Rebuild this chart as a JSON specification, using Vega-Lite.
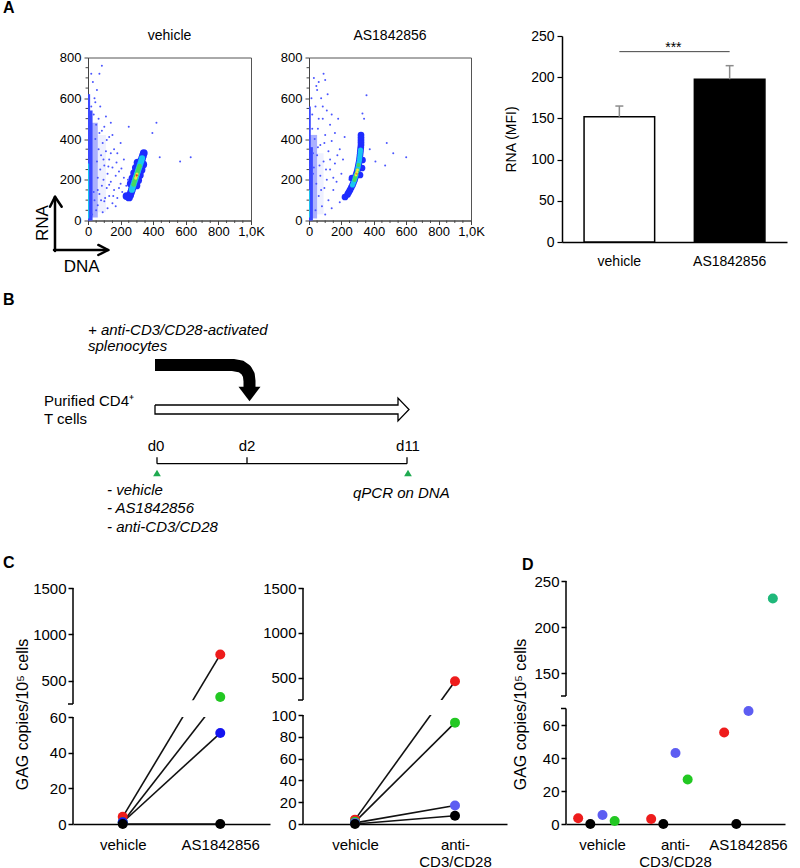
{
"$schema": "https://vega.github.io/schema/vega-lite/v6.json",
"padding": {"left": 3, "top": 0, "right": 0, "bottom": 0},
"config": {
 "font": "Liberation Sans",
 "view": {"stroke": null},
 "axis": {"grid": false, "labelColor": "#000", "titleColor": "#000", "labelFont": "Liberation Sans", "titleFont": "Liberation Sans", "titleFontWeight": "normal", "labelOverlap": false},
 "text": {"font": "Liberation Sans"},
 "title": {"font": "Liberation Sans", "fontWeight": "normal", "color": "#000"}
},
"datasets": {
 "vehB": [
  {"x1":0,"x2":110,"y1":40,"y2":420,"lv":"h2"},
  {"x1":0,"x2":60,"y1":15,"y2":480,"lv":"h"},
  {"x1":0,"x2":28,"y1":0,"y2":540,"lv":"bb"},
  {"x1":0,"x2":13,"y1":0,"y2":620,"lv":"bb"},
  {"x1":0,"x2":7,"y1":10,"y2":280,"lv":"c"}
 ],
 "asB": [
  {"x1":0,"x2":90,"y1":30,"y2":330,"lv":"h2"},
  {"x1":0,"x2":50,"y1":10,"y2":420,"lv":"h"},
  {"x1":0,"x2":24,"y1":0,"y2":360,"lv":"bb"},
  {"x1":0,"x2":11,"y1":0,"y2":560,"lv":"bb"},
  {"x1":0,"x2":6,"y1":15,"y2":150,"lv":"c"}
 ],
 "minX": [{"t":50},{"t":100},{"t":150},{"t":250},{"t":300},{"t":350},{"t":450},{"t":500},{"t":550},{"t":650},{"t":700},{"t":750},{"t":850},{"t":900},{"t":950}],
 "minY": [{"t":50},{"t":100},{"t":150},{"t":250},{"t":300},{"t":350},{"t":450},{"t":500},{"t":550},{"t":650},{"t":700},{"t":750}],
 "vehP": [
  {"x":35,"y":520,"lv":"s"},{"x":50,"y":470,"lv":"s"},{"x":70,"y":430,"lv":"s"},{"x":45,"y":400,"lv":"s"},{"x":90,"y":380,"lv":"s"},{"x":65,"y":350,"lv":"s"},{"x":110,"y":340,"lv":"s"},{"x":80,"y":320,"lv":"s"},{"x":130,"y":300,"lv":"s"},{"x":55,"y":290,"lv":"s"},{"x":100,"y":270,"lv":"s"},{"x":150,"y":260,"lv":"s"},{"x":75,"y":250,"lv":"s"},{"x":120,"y":230,"lv":"s"},{"x":170,"y":220,"lv":"s"},{"x":60,"y":210,"lv":"s"},{"x":95,"y":200,"lv":"s"},{"x":140,"y":190,"lv":"s"},{"x":200,"y":180,"lv":"s"},{"x":85,"y":170,"lv":"s"},{"x":115,"y":160,"lv":"s"},{"x":160,"y":150,"lv":"s"},{"x":210,"y":140,"lv":"s"},{"x":70,"y":130,"lv":"s"},{"x":130,"y":120,"lv":"s"},{"x":180,"y":110,"lv":"s"},{"x":100,"y":95,"lv":"s"},{"x":150,"y":85,"lv":"s"},{"x":60,"y":75,"lv":"s"},{"x":120,"y":60,"lv":"s"},{"x":90,"y":40,"lv":"s"},{"x":170,"y":70,"lv":"s"},{"x":230,"y":130,"lv":"s"},{"x":190,"y":240,"lv":"s"},{"x":220,"y":300,"lv":"s"},{"x":160,"y":350,"lv":"s"},{"x":130,"y":410,"lv":"s"},{"x":100,"y":460,"lv":"s"},{"x":40,"y":600,"lv":"s"},{"x":55,"y":640,"lv":"s"},{"x":30,"y":680,"lv":"s"},{"x":70,"y":720,"lv":"s"},{"x":85,"y":760,"lv":"s"},{"x":20,"y":560,"lv":"s"},{"x":110,"y":510,"lv":"s"},{"x":75,"y":560,"lv":"s"},{"x":150,"y":420,"lv":"s"},{"x":200,"y":380,"lv":"s"},{"x":245,"y":200,"lv":"s"},{"x":250,"y":460,"lv":"s"},{"x":180,"y":330,"lv":"s"},{"x":140,"y":480,"lv":"s"},{"x":60,"y":150,"lv":"s"},{"x":40,"y":100,"lv":"s"},{"x":105,"y":110,"lv":"s"},{"x":25,"y":30,"lv":"s"},{"x":50,"y":50,"lv":"s"},{"x":130,"y":175,"lv":"s"},{"x":175,"y":285,"lv":"s"},{"x":95,"y":300,"lv":"s"},{"x":205,"y":255,"lv":"s"},{"x":440,"y":310,"lv":"s"},{"x":565,"y":290,"lv":"s"},{"x":630,"y":310,"lv":"s"},{"x":420,"y":480,"lv":"s"},{"x":395,"y":430,"lv":"s"},{"x":20,"y":720,"lv":"s"},{"x":45,"y":580,"lv":"s"},{"x":115,"y":395,"lv":"s"},{"x":85,"y":440,"lv":"s"},{"x":65,"y":500,"lv":"s"},{"x":140,"y":330,"lv":"s"},{"x":125,"y":265,"lv":"s"},{"x":190,"y":160,"lv":"s"},{"x":235,"y":170,"lv":"s"},{"x":220,"y":210,"lv":"s"},{"x":155,"y":120,"lv":"s"},{"x":80,"y":100,"lv":"s"},{"x":35,"y":140,"lv":"s"},
  {"x":258.9,"y":125.6,"lv":"b"},{"x":269.3,"y":151.2,"lv":"b"},{"x":279.8,"y":176.7,"lv":"b"},{"x":290.2,"y":202.7,"lv":"b"},{"x":300.6,"y":228.2,"lv":"b"},{"x":311,"y":253.7,"lv":"b"},{"x":321.5,"y":279.8,"lv":"b"},{"x":331.9,"y":305.3,"lv":"b"},{"x":342.3,"y":330.8,"lv":"b"},{"x":297.3,"y":172.1,"lv":"b"},{"x":262.3,"y":181.3,"lv":"b"},{"x":307.7,"y":198.1,"lv":"b"},{"x":272.7,"y":207.3,"lv":"b"},{"x":318.1,"y":223.6,"lv":"b"},{"x":283.1,"y":232.8,"lv":"b"},{"x":328.5,"y":249.1,"lv":"b"},{"x":293.5,"y":258.3,"lv":"b"},{"x":339,"y":275.2,"lv":"b"},{"x":304,"y":284.4,"lv":"b"},{"x":236.2,"y":120.2,"lv":"b"},{"x":251.5,"y":112.9,"lv":"b"},{"x":264.1,"y":138.4,"lv":"b"},{"x":274.6,"y":164,"lv":"b"},{"x":285,"y":189.7,"lv":"b"},{"x":295.4,"y":215.5,"lv":"b"},{"x":305.8,"y":241,"lv":"b"},{"x":316.3,"y":266.8,"lv":"b"},{"x":326.7,"y":292.6,"lv":"b"},{"x":337.1,"y":318,"lv":"b"},
  {"x":269.3,"y":151.2,"lv":"c"},{"x":279.8,"y":176.7,"lv":"c"},{"x":290.2,"y":202.7,"lv":"c"},{"x":300.6,"y":228.2,"lv":"c"},{"x":311,"y":253.7,"lv":"c"},{"x":321.5,"y":279.8,"lv":"c"},{"x":331.9,"y":305.3,"lv":"c"},{"x":295.4,"y":215,"lv":"c"},{"x":306,"y":241,"lv":"c"},{"x":274.6,"y":164,"lv":"c"},{"x":285,"y":189.7,"lv":"c"},{"x":316.3,"y":266.8,"lv":"c"},{"x":326.7,"y":292.6,"lv":"c"},
  {"x":279.8,"y":176.7,"lv":"g"},{"x":290.2,"y":202.7,"lv":"g"},{"x":300.6,"y":228.2,"lv":"g"},{"x":311,"y":253.7,"lv":"g"},{"x":285,"y":190,"lv":"g"},{"x":295.4,"y":215.5,"lv":"g"},{"x":305.8,"y":241,"lv":"g"},{"x":316.3,"y":266.8,"lv":"g"},
  {"x":293,"y":208,"lv":"y"},{"x":300.6,"y":228.2,"lv":"y"},{"x":297,"y":218,"lv":"y"},
  {"x":299,"y":221,"lv":"r"}
 ],
 "asP": [
  {"x":30,"y":700,"lv":"s"},{"x":60,"y":680,"lv":"s"},{"x":90,"y":720,"lv":"s"},{"x":100,"y":690,"lv":"s"},{"x":50,"y":640,"lv":"s"},{"x":75,"y":600,"lv":"s"},{"x":40,"y":560,"lv":"s"},{"x":110,"y":540,"lv":"s"},{"x":20,"y":520,"lv":"s"},{"x":85,"y":500,"lv":"s"},{"x":130,"y":470,"lv":"s"},{"x":55,"y":450,"lv":"s"},{"x":160,"y":430,"lv":"s"},{"x":100,"y":420,"lv":"s"},{"x":35,"y":400,"lv":"s"},{"x":140,"y":390,"lv":"s"},{"x":70,"y":370,"lv":"s"},{"x":190,"y":350,"lv":"s"},{"x":120,"y":340,"lv":"s"},{"x":50,"y":320,"lv":"s"},{"x":210,"y":300,"lv":"s"},{"x":90,"y":290,"lv":"s"},{"x":160,"y":280,"lv":"s"},{"x":30,"y":260,"lv":"s"},{"x":130,"y":250,"lv":"s"},{"x":200,"y":230,"lv":"s"},{"x":70,"y":220,"lv":"s"},{"x":110,"y":200,"lv":"s"},{"x":170,"y":190,"lv":"s"},{"x":45,"y":180,"lv":"s"},{"x":95,"y":160,"lv":"s"},{"x":150,"y":150,"lv":"s"},{"x":230,"y":140,"lv":"s"},{"x":60,"y":120,"lv":"s"},{"x":120,"y":100,"lv":"s"},{"x":190,"y":90,"lv":"s"},{"x":80,"y":70,"lv":"s"},{"x":40,"y":50,"lv":"s"},{"x":140,"y":60,"lv":"s"},{"x":100,"y":30,"lv":"s"},{"x":25,"y":330,"lv":"s"},{"x":65,"y":270,"lv":"s"},{"x":15,"y":600,"lv":"s"},{"x":180,"y":500,"lv":"s"},{"x":220,"y":410,"lv":"s"},{"x":250,"y":200,"lv":"s"},{"x":20,"y":450,"lv":"s"},{"x":75,"y":150,"lv":"s"},{"x":130,"y":300,"lv":"s"},{"x":60,"y":500,"lv":"s"},{"x":355,"y":615,"lv":"s"},{"x":330,"y":525,"lv":"s"},{"x":480,"y":380,"lv":"s"},{"x":520,"y":330,"lv":"s"},{"x":600,"y":310,"lv":"s"},{"x":470,"y":270,"lv":"s"},{"x":410,"y":290,"lv":"s"},{"x":375,"y":350,"lv":"s"},{"x":340,"y":500,"lv":"s"},{"x":115,"y":620,"lv":"s"},{"x":45,"y":660,"lv":"s"},{"x":85,"y":560,"lv":"s"},{"x":25,"y":230,"lv":"s"},{"x":150,"y":210,"lv":"s"},{"x":105,"y":250,"lv":"s"},{"x":175,"y":320,"lv":"s"},{"x":55,"y":360,"lv":"s"},{"x":95,"y":380,"lv":"s"},{"x":140,"y":520,"lv":"s"},
  {"x":237.7,"y":127.6,"lv":"b"},{"x":253.1,"y":149.7,"lv":"b"},{"x":268.5,"y":174.2,"lv":"b"},{"x":280.9,"y":198.8,"lv":"b"},{"x":290.1,"y":223.3,"lv":"b"},{"x":299.4,"y":247.9,"lv":"b"},{"x":305.6,"y":272.4,"lv":"b"},{"x":311.7,"y":296.9,"lv":"b"},{"x":314.8,"y":321.5,"lv":"b"},{"x":317.9,"y":346,"lv":"b"},{"x":321,"y":370.6,"lv":"b"},{"x":321,"y":395.1,"lv":"b"},{"x":321,"y":419.6,"lv":"b"},{"x":327.2,"y":257.7,"lv":"b"},{"x":330.2,"y":296.9,"lv":"b"},{"x":265.4,"y":208.6,"lv":"b"},{"x":314.8,"y":223.3,"lv":"b"},{"x":222.2,"y":115.3,"lv":"b"},{"x":245.4,"y":138.7,"lv":"b"},{"x":260.8,"y":162,"lv":"b"},{"x":274.7,"y":186.5,"lv":"b"},{"x":285.5,"y":211,"lv":"b"},{"x":294.8,"y":235.6,"lv":"b"},{"x":302.5,"y":260.2,"lv":"b"},{"x":308.7,"y":284.7,"lv":"b"},{"x":313.3,"y":309.2,"lv":"b"},{"x":316.4,"y":333.8,"lv":"b"},{"x":319.5,"y":358.3,"lv":"b"},{"x":321,"y":383,"lv":"b"},{"x":321,"y":407,"lv":"b"},
  {"x":268.5,"y":174.2,"lv":"c"},{"x":280.9,"y":198.8,"lv":"c"},{"x":290.1,"y":223.3,"lv":"c"},{"x":299.4,"y":247.9,"lv":"c"},{"x":305.6,"y":272.4,"lv":"c"},{"x":311.7,"y":296.9,"lv":"c"},{"x":314.8,"y":321.5,"lv":"c"},{"x":317.9,"y":346,"lv":"c"},{"x":274.7,"y":186.5,"lv":"c"},{"x":285.5,"y":211,"lv":"c"},{"x":302.5,"y":260.2,"lv":"c"},{"x":308.7,"y":284.7,"lv":"c"},{"x":313.3,"y":309.2,"lv":"c"},{"x":316.4,"y":333.8,"lv":"c"},
  {"x":280.9,"y":198.8,"lv":"g"},{"x":290.1,"y":223.3,"lv":"g"},{"x":299.4,"y":247.9,"lv":"g"},{"x":305.6,"y":272.4,"lv":"g"},{"x":285,"y":211,"lv":"g"},{"x":295,"y":236,"lv":"g"},
  {"x":290.1,"y":223.3,"lv":"y"},{"x":295,"y":236,"lv":"y"},{"x":299.4,"y":247.9,"lv":"y"},
  {"x":293,"y":230,"lv":"r"}
 ],
 "barD": [
  {"cond":"vehicle","mfi":152,"err":165},
  {"cond":"AS1842856","mfi":197.5,"err":214}
 ],
 "c1": [
  {"cond":"vehicle","mouse":"M1","val":4},
  {"cond":"vehicle","mouse":"M3","val":1},
  {"cond":"vehicle","mouse":"M2","val":1},
  {"cond":"vehicle","mouse":"M4","val":0},
  {"cond":"AS1842856","mouse":"M1","val":783},
  {"cond":"AS1842856","mouse":"M3","val":326},
  {"cond":"AS1842856","mouse":"M2","val":51},
  {"cond":"AS1842856","mouse":"M4","val":0}
 ],
 "c2": [
  {"cond":"vehicle","mouse":"M1","val":4},
  {"cond":"vehicle","mouse":"M3","val":2},
  {"cond":"vehicle","mouse":"M2","val":1},
  {"cond":"vehicle","mouse":"M4","val":0},
  {"cond":"anti-CD3/CD28","mouse":"M1","val":460},
  {"cond":"anti-CD3/CD28","mouse":"M3","val":93},
  {"cond":"anti-CD3/CD28","mouse":"M2","val":17},
  {"cond":"anti-CD3/CD28","mouse":"M4","val":7.5}
 ],
 "dd": [
  {"cond":"vehicle","mouse":"M1","val":3.5},
  {"cond":"vehicle","mouse":"M4","val":0},
  {"cond":"vehicle","mouse":"M2","val":5.5},
  {"cond":"vehicle","mouse":"M3","val":1.8},
  {"cond":"anti-CD3/CD28","mouse":"M4","val":0},
  {"cond":"anti-CD3/CD28","mouse":"M3","val":27},
  {"cond":"anti-CD3/CD28","mouse":"M2","val":43},
  {"cond":"anti-CD3/CD28","mouse":"M1","val":3},
  {"cond":"AS1842856","mouse":"M5","val":231},
  {"cond":"AS1842856","mouse":"M2","val":68.5},
  {"cond":"AS1842856","mouse":"M1","val":55.5},
  {"cond":"AS1842856","mouse":"M4","val":0}
 ],
 "sNorm": [
  {"u":-29,"v":130,"t":"Purified CD4⁺"},
  {"u":-29,"v":148,"t":"T cells"}
 ],
 "sCent": [
  {"u":83,"v":175,"t":"d0"},
  {"u":174,"v":175,"t":"d2"},
  {"u":335,"v":175,"t":"d11"}
 ],
 "sItal": [
  {"u":15,"v":59,"t":"+ anti-CD3/CD28-activated"},
  {"u":15,"v":75,"t":"splenocytes"},
  {"u":34,"v":219,"t":"- vehicle"},
  {"u":34,"v":237,"t":"- AS1842856"},
  {"u":34,"v":256,"t":"- anti-CD3/CD28"},
  {"u":280,"v":221.7,"t":"qPCR on DNA"}
 ],
 "sBlack": [
  {"u":82,"v":89,"i":0},{"u":160,"v":89,"i":1},{"u":168,"v":90.5,"i":2},{"u":173,"v":94,"i":3},{"u":175.8,"v":99,"i":4},{"u":176.5,"v":105,"i":5},{"u":176.5,"v":112,"i":6}
 ],
 "sHollow": [
  {"u":82,"v":129,"i":0},{"u":325,"v":129,"i":1},{"u":325,"v":122,"i":2},{"u":336,"v":133.5,"i":3},{"u":325,"v":145,"i":4},{"u":325,"v":138,"i":5},{"u":82,"v":138,"i":6},{"u":82,"v":129,"i":7}
 ],
 "sRules": [
  {"u":84,"v":187.7,"u2":334,"v2":187.7},
  {"u":84,"v":181.2,"u2":84,"v2":187.7},
  {"u":174,"v":181.2,"u2":174,"v2":187.7},
  {"u":334,"v":181.2,"u2":334,"v2":187.7}
 ]
},
"spacing": 0,
"resolve": {"scale": {"x": "independent", "y": "independent", "color": "independent"}},
"vconcat": [
 {
  "hconcat": [
   {"width": 15, "height": 2, "layer": [
     {"data": {"values": [{}]}, "mark": {"type": "text", "text": "A", "fontSize": 16, "fontWeight": "bold", "align": "left", "baseline": "top", "color": "#000"}, "encoding": {"x": {"value": -70}, "y": {"value": -138}}}
   ]},
   {
    "width": 163, "height": 163,
    "title": {"text": "vehicle", "fontSize": 14, "offset": 9, "frame": "group"},
    "view": {"stroke": "#555"},
    "layer": [
     {"data": {"name": "vehB"}, "mark": {"type": "rect"}, "encoding": {
       "x": {"field": "x1", "type": "quantitative", "scale": {"domain": [0, 1000], "nice": false, "zero": false},
             "axis": {"title": null, "values": [0,200,400,600,800,1000], "tickCount": 50, "labelExpr": "datum.value == 1000 ? '1,0K' : datum.label", "format": "d", "tickSize": 4, "tickColor": "#444", "domainColor": "#444", "labelFontSize": 13, "labelPadding": 1, "labelOverlap": false, "labelFlush": false}},
       "x2": {"field": "x2"},
       "y": {"field": "y1", "type": "quantitative", "scale": {"domain": [0, 800], "nice": false, "zero": false},
             "axis": {"title": null, "values": [0,200,400,600,800], "tickCount": 50, "format": "d", "tickSize": 4, "tickColor": "#444", "domainColor": "#444", "labelFontSize": 13, "labelPadding": 3, "labelOverlap": false, "labelFlush": false}},
       "y2": {"field": "y2"},
       "color": {"field": "lv", "type": "nominal", "scale": {"domain": ["h2","h","bb","c"], "range": ["#eef0ff","#aab0ff","#3a48ff","#19c6f0"]}, "legend": null}}},
     {"data": {"name": "minX"}, "mark": {"type": "rule", "color": "#444", "strokeWidth": 1}, "encoding": {"x": {"field": "t", "type": "quantitative"}, "y": {"datum": 0}, "y2": {"datum": -12}}},
     {"data": {"name": "minY"}, "mark": {"type": "rule", "color": "#444", "strokeWidth": 1}, "encoding": {"y": {"field": "t", "type": "quantitative"}, "x": {"datum": 0}, "x2": {"datum": -15}}},
     {"data": {"name": "vehP"}, "transform": [{"filter": "datum.lv == 's'"}], "mark": {"type": "point", "filled": true, "opacity": 1, "size": 4, "color": "#4a55ff", "strokeWidth": 0}, "encoding": {"x": {"field": "x", "type": "quantitative"}, "y": {"field": "y", "type": "quantitative"}}},
     {"data": {"name": "vehP"}, "transform": [{"filter": "datum.lv == 'b'"}], "mark": {"type": "point", "filled": true, "opacity": 1, "size": 60, "color": "#1e2cff", "strokeWidth": 0}, "encoding": {"x": {"field": "x", "type": "quantitative"}, "y": {"field": "y", "type": "quantitative"}}},
     {"data": {"name": "vehP"}, "transform": [{"filter": "datum.lv == 'c'"}], "mark": {"type": "point", "filled": true, "opacity": 1, "size": 38, "color": "#19c6f0", "strokeWidth": 0}, "encoding": {"x": {"field": "x", "type": "quantitative"}, "y": {"field": "y", "type": "quantitative"}}},
     {"data": {"name": "vehP"}, "transform": [{"filter": "datum.lv == 'g'"}], "mark": {"type": "point", "filled": true, "opacity": 1, "size": 22, "color": "#46d860", "strokeWidth": 0}, "encoding": {"x": {"field": "x", "type": "quantitative"}, "y": {"field": "y", "type": "quantitative"}}},
     {"data": {"name": "vehP"}, "transform": [{"filter": "datum.lv == 'y'"}], "mark": {"type": "point", "filled": true, "opacity": 1, "size": 10, "color": "#f2e34a", "strokeWidth": 0}, "encoding": {"x": {"field": "x", "type": "quantitative"}, "y": {"field": "y", "type": "quantitative"}}},
     {"data": {"name": "vehP"}, "transform": [{"filter": "datum.lv == 'r'"}], "mark": {"type": "point", "filled": true, "opacity": 1, "size": 5, "color": "#ee3a1c", "strokeWidth": 0}, "encoding": {"x": {"field": "x", "type": "quantitative"}, "y": {"field": "y", "type": "quantitative"}}},
     {"data": {"values": [
       {"ax": -202.5, "ay": -149.7, "ax2": -202.5, "ay2": 112.9},
       {"ax": -233.1, "ay": 67.7, "ax2": -202.5, "ay2": 116.8},
       {"ax": -161.3, "ay": 67.7, "ax2": -202.5, "ay2": 116.8},
       {"ax": -208.6, "ay": -144.8, "ax2": 119.6, "ay2": -144.8},
       {"ax": 63.2, "ay": -120.2, "ax2": 124.5, "ay2": -144.8},
       {"ax": 63.2, "ay": -169.3, "ax2": 124.5, "ay2": -144.8}
      ]}, "mark": {"type": "rule", "strokeWidth": 2.5, "color": "#000", "strokeCap": "round"},
      "encoding": {"x": {"field": "ax", "type": "quantitative"}, "x2": {"field": "ax2"}, "y": {"field": "ay", "type": "quantitative"}, "y2": {"field": "ay2"}}},
     {"data": {"values": [{}]}, "mark": {"type": "text", "text": "RNA", "fontSize": 17, "angle": 270, "align": "center", "baseline": "middle", "color": "#000"}, "encoding": {"x": {"datum": -276}, "y": {"datum": -12.3}}},
     {"data": {"values": [{}]}, "mark": {"type": "text", "text": "DNA", "fontSize": 17, "align": "center", "baseline": "middle", "color": "#000"}, "encoding": {"x": {"datum": -38.7}, "y": {"datum": -226.7}}}
    ]
   },
   {"width": 58, "height": 2, "data": {"values": [{"a": 1}]}, "mark": {"type": "point", "opacity": 0}, "encoding": {}},
   {
    "width": 162, "height": 163,
    "title": {"text": "AS1842856", "fontSize": 14, "offset": 9, "frame": "group"},
    "view": {"stroke": "#555"},
    "layer": [
     {"data": {"name": "asB"}, "mark": {"type": "rect"}, "encoding": {
       "x": {"field": "x1", "type": "quantitative", "scale": {"domain": [0, 1000], "nice": false, "zero": false},
             "axis": {"title": null, "values": [0,200,400,600,800,1000], "tickCount": 50, "labelExpr": "datum.value == 1000 ? '1,0K' : datum.label", "format": "d", "tickSize": 4, "tickColor": "#444", "domainColor": "#444", "labelFontSize": 13, "labelPadding": 1, "labelOverlap": false, "labelFlush": false}},
       "x2": {"field": "x2"},
       "y": {"field": "y1", "type": "quantitative", "scale": {"domain": [0, 800], "nice": false, "zero": false},
             "axis": {"title": null, "values": [0,200,400,600,800], "tickCount": 50, "format": "d", "tickSize": 4, "tickColor": "#444", "domainColor": "#444", "labelFontSize": 13, "labelPadding": 3, "labelOverlap": false, "labelFlush": false}},
       "y2": {"field": "y2"},
       "color": {"field": "lv", "type": "nominal", "scale": {"domain": ["h2","h","bb","c"], "range": ["#eef0ff","#aab0ff","#3a48ff","#19c6f0"]}, "legend": null}}},
     {"data": {"name": "minX"}, "mark": {"type": "rule", "color": "#444", "strokeWidth": 1}, "encoding": {"x": {"field": "t", "type": "quantitative"}, "y": {"datum": 0}, "y2": {"datum": -12}}},
     {"data": {"name": "minY"}, "mark": {"type": "rule", "color": "#444", "strokeWidth": 1}, "encoding": {"y": {"field": "t", "type": "quantitative"}, "x": {"datum": 0}, "x2": {"datum": -15}}},
     {"data": {"name": "asP"}, "transform": [{"filter": "datum.lv == 's'"}], "mark": {"type": "point", "filled": true, "opacity": 1, "size": 4, "color": "#4a55ff", "strokeWidth": 0}, "encoding": {"x": {"field": "x", "type": "quantitative"}, "y": {"field": "y", "type": "quantitative"}}},
     {"data": {"name": "asP"}, "transform": [{"filter": "datum.lv == 'b'"}], "mark": {"type": "point", "filled": true, "opacity": 1, "size": 45, "color": "#1e2cff", "strokeWidth": 0}, "encoding": {"x": {"field": "x", "type": "quantitative"}, "y": {"field": "y", "type": "quantitative"}}},
     {"data": {"name": "asP"}, "transform": [{"filter": "datum.lv == 'c'"}], "mark": {"type": "point", "filled": true, "opacity": 1, "size": 26, "color": "#19c6f0", "strokeWidth": 0}, "encoding": {"x": {"field": "x", "type": "quantitative"}, "y": {"field": "y", "type": "quantitative"}}},
     {"data": {"name": "asP"}, "transform": [{"filter": "datum.lv == 'g'"}], "mark": {"type": "point", "filled": true, "opacity": 1, "size": 16, "color": "#46d860", "strokeWidth": 0}, "encoding": {"x": {"field": "x", "type": "quantitative"}, "y": {"field": "y", "type": "quantitative"}}},
     {"data": {"name": "asP"}, "transform": [{"filter": "datum.lv == 'y'"}], "mark": {"type": "point", "filled": true, "opacity": 1, "size": 8, "color": "#f2e34a", "strokeWidth": 0}, "encoding": {"x": {"field": "x", "type": "quantitative"}, "y": {"field": "y", "type": "quantitative"}}},
     {"data": {"name": "asP"}, "transform": [{"filter": "datum.lv == 'r'"}], "mark": {"type": "point", "filled": true, "opacity": 1, "size": 4, "color": "#f08a2a", "strokeWidth": 0}, "encoding": {"x": {"field": "x", "type": "quantitative"}, "y": {"field": "y", "type": "quantitative"}}}
    ]
   },
   {"width": 91, "height": 2, "data": {"values": [{"a": 1}]}, "mark": {"type": "point", "opacity": 0}, "encoding": {}},
   {
    "width": 225, "height": 206,
    "data": {"name": "barD"},
    "layer": [
     {"mark": {"type": "bar", "stroke": "#000", "strokeWidth": 1.5},
      "encoding": {
       "x": {"field": "cond", "type": "nominal", "sort": null, "scale": {"paddingInner": 0.36, "paddingOuter": 0.2},
             "axis": {"title": null, "ticks": false, "tickSize": 0, "labelAngle": 0, "labelPadding": 12, "labelFontSize": 14, "domainColor": "#000", "domainWidth": 1.5}},
       "y": {"field": "mfi", "type": "quantitative", "scale": {"domain": [0, 250], "nice": false},
             "axis": {"title": "RNA (MFI)", "titleFontSize": 14, "titlePadding": 12, "values": [0,50,100,150,200,250], "tickCount": 50, "format": "d", "tickSize": 5, "tickColor": "#000", "tickWidth": 1.2, "domainColor": "#000", "domainWidth": 1.5, "labelFontSize": 14, "labelPadding": 3}},
       "fill": {"field": "cond", "type": "nominal", "sort": null, "scale": {"domain": ["vehicle", "AS1842856"], "range": ["#ffffff", "#000000"]}, "legend": null}}},
     {"mark": {"type": "rule", "color": "#8c8c8c", "strokeWidth": 1.5},
      "encoding": {"x": {"field": "cond", "type": "nominal", "sort": null}, "y": {"field": "mfi", "type": "quantitative"}, "y2": {"field": "err"}}},
     {"mark": {"type": "tick", "color": "#8c8c8c", "thickness": 1.5, "size": 8, "opacity": 1},
      "encoding": {"x": {"field": "cond", "type": "nominal", "sort": null}, "y": {"field": "err", "type": "quantitative"}}},
     {"data": {"values": [{}]}, "mark": {"type": "rule", "color": "#444", "strokeWidth": 1},
      "encoding": {"x": {"datum": "vehicle", "type": "nominal"}, "x2": {"datum": "AS1842856"}, "y": {"datum": 231, "type": "quantitative"}}},
     {"data": {"values": [{}]}, "mark": {"type": "text", "text": "***", "fontSize": 14, "dx": 54, "baseline": "middle", "align": "center", "color": "#000"},
      "encoding": {"x": {"datum": "vehicle", "type": "nominal"}, "y": {"datum": 236, "type": "quantitative"}}}
    ]
   }
  ],
  "spacing": 0, "bounds": "flush", "center": true,
  "resolve": {"scale": {"x": "independent", "y": "independent", "color": "independent", "fill": "independent"}}
 },
 {
  "width": 380, "height": 279,
  "layer": [
   {"data": {"name": "sNorm"}, "mark": {"type": "text", "fontSize": 15, "align": "left", "baseline": "alphabetic", "color": "#000"},
    "encoding": {"x": {"field": "u", "type": "quantitative", "scale": {"domain": [0, 380], "nice": false, "zero": false}, "axis": null},
                 "y": {"field": "v", "type": "quantitative", "scale": {"domain": [0, 279], "nice": false, "zero": false, "reverse": true}, "axis": null},
                 "text": {"field": "t"}}},
   {"data": {"name": "sCent"}, "mark": {"type": "text", "fontSize": 15, "align": "center", "baseline": "alphabetic", "color": "#000"},
    "encoding": {"x": {"field": "u", "type": "quantitative"}, "y": {"field": "v", "type": "quantitative"}, "text": {"field": "t"}}},
   {"data": {"name": "sItal"}, "mark": {"type": "text", "fontSize": 15, "fontStyle": "italic", "align": "left", "baseline": "alphabetic", "color": "#000"},
    "encoding": {"x": {"field": "u", "type": "quantitative"}, "y": {"field": "v", "type": "quantitative"}, "text": {"field": "t"}}},
   {"data": {"values": [{"u": -70, "v": 16, "t": "B"}]}, "mark": {"type": "text", "fontSize": 16, "fontWeight": "bold", "align": "left", "baseline": "top", "color": "#000"},
    "encoding": {"x": {"field": "u", "type": "quantitative"}, "y": {"field": "v", "type": "quantitative"}, "text": {"field": "t"}}},
   {"data": {"name": "sBlack"}, "mark": {"type": "line", "color": "#000", "strokeWidth": 12, "strokeCap": "butt", "strokeJoin": "round"},
    "encoding": {"x": {"field": "u", "type": "quantitative"}, "y": {"field": "v", "type": "quantitative"}, "order": {"field": "i"}}},
   {"data": {"values": [{"u": 176.5, "v": 118}]}, "mark": {"type": "point", "filled": true, "color": "#000", "opacity": 1, "size": 484, "shape": "M-1,-0.65L1,-0.65L0,0.65Z", "strokeWidth": 0},
    "encoding": {"x": {"field": "u", "type": "quantitative"}, "y": {"field": "v", "type": "quantitative"}}},
   {"data": {"name": "sHollow"}, "mark": {"type": "line", "color": "#000", "strokeWidth": 1.3, "strokeJoin": "miter"},
    "encoding": {"x": {"field": "u", "type": "quantitative"}, "y": {"field": "v", "type": "quantitative"}, "order": {"field": "i"}}},
   {"data": {"name": "sRules"}, "mark": {"type": "rule", "color": "#000", "strokeWidth": 1.3},
    "encoding": {"x": {"field": "u", "type": "quantitative"}, "y": {"field": "v", "type": "quantitative"}, "x2": {"field": "u2"}, "y2": {"field": "v2"}}},
   {"data": {"values": [{"u": 84, "v": 197}, {"u": 335, "v": 197}]}, "mark": {"type": "point", "shape": "triangle-up", "filled": true, "color": "#1faa50", "opacity": 1, "size": 60, "strokeWidth": 0},
    "encoding": {"x": {"field": "u", "type": "quantitative"}, "y": {"field": "v", "type": "quantitative"}}}
  ]
 },
 {
  "hconcat": [
   {
    "width": 197, "height": 243,
    "data": {"name": "c1"},
    "layer": [
     {"mark": {"type": "line", "color": "#111", "strokeWidth": 1.6},
      "encoding": {
       "x": {"field": "cond", "type": "nominal", "sort": null, "scale": {"type": "point", "padding": 0.51},
             "axis": {"title": null, "ticks": false, "tickSize": 0, "labelAngle": 0, "labelPadding": 13, "labelFontSize": 15, "domainColor": "#000", "domainWidth": 1.5}},
       "y": {"field": "val", "type": "quantitative", "scale": {"domain": [0, 60, 250, 1500], "range": [243, 136, 123, 7], "nice": false, "zero": false},
             "axis": {"title": "GAG copies/10⁵ cells", "titleFontSize": 16, "titlePadding": 2, "titleY": 133, "domain": false, "values": [0,20,40,60,500,1000,1500], "tickCount": 50, "format": "d", "tickSize": 5, "tickWidth": 1.5, "tickColor": "#000", "labelFontSize": 15, "labelPadding": 2, "labelOverlap": false, "labelFlush": false}},
       "detail": {"field": "mouse"}}},
     {"data": {"values": [{}]}, "mark": {"type": "rect", "color": "#ffffff"},
      "encoding": {"y": {"datum": 60, "type": "quantitative"}, "y2": {"datum": 290}}},
     {"data": {"values": [{"lo": 0, "hi": 60}, {"lo": 250, "hi": 1500}]}, "mark": {"type": "rule", "color": "#000", "strokeWidth": 1.5},
      "encoding": {"x": {"value": 0}, "y": {"field": "lo", "type": "quantitative"}, "y2": {"field": "hi"}}},
     {"data": {"values": [{}]}, "mark": {"type": "rule", "color": "#000", "strokeWidth": 1.5},
      "encoding": {"x": {"value": -5}, "x2": {"value": 0}, "y": {"datum": 250, "type": "quantitative"}}},
     {"mark": {"type": "point", "filled": true, "size": 100, "opacity": 1, "strokeWidth": 0},
      "encoding": {"x": {"field": "cond", "type": "nominal", "sort": null}, "y": {"field": "val", "type": "quantitative"},
                   "color": {"field": "mouse", "type": "nominal", "scale": {"domain": ["M1","M2","M3","M4"], "range": ["#ee1c1c","#1414f0","#22c822","#000000"]}, "legend": null}}},
     {"data": {"values": [{}]}, "mark": {"type": "text", "text": "C", "fontSize": 16, "fontWeight": "bold", "align": "left", "baseline": "top", "color": "#000"},
      "encoding": {"x": {"value": -70}, "y": {"value": -26}}}
    ]
   },
   {"width": 33, "height": 2, "data": {"values": [{"a": 1}]}, "mark": {"type": "point", "opacity": 0}, "encoding": {}},
   {
    "width": 204, "height": 243,
    "data": {"name": "c2"},
    "layer": [
     {"mark": {"type": "line", "color": "#111", "strokeWidth": 1.6},
      "encoding": {
       "x": {"field": "cond", "type": "nominal", "sort": null, "scale": {"type": "point", "padding": 0.52},
             "axis": {"title": null, "ticks": false, "tickSize": 0, "labelAngle": 0, "labelPadding": 13, "labelFontSize": 15, "domainColor": "#000", "domainWidth": 1.5, "labelExpr": "datum.value == 'anti-CD3/CD28' ? ['anti-', 'CD3/CD28'] : datum.label", "labelLineHeight": 17}},
       "y": {"field": "val", "type": "quantitative", "scale": {"domain": [0, 100, 250, 1500], "range": [243, 134, 119, 7], "nice": false, "zero": false},
             "axis": {"title": null, "domain": false, "values": [0,20,40,60,80,100,500,1000,1500], "tickCount": 50, "format": "d", "tickSize": 5, "tickWidth": 1.5, "tickColor": "#000", "labelFontSize": 15, "labelPadding": 2, "labelOverlap": false, "labelFlush": false}},
       "detail": {"field": "mouse"}}},
     {"data": {"values": [{}]}, "mark": {"type": "rect", "color": "#ffffff"},
      "encoding": {"y": {"datum": 100, "type": "quantitative"}, "y2": {"datum": 250}}},
     {"data": {"values": [{"lo": 0, "hi": 100}, {"lo": 250, "hi": 1500}]}, "mark": {"type": "rule", "color": "#000", "strokeWidth": 1.5},
      "encoding": {"x": {"value": 0}, "y": {"field": "lo", "type": "quantitative"}, "y2": {"field": "hi"}}},
     {"data": {"values": [{}]}, "mark": {"type": "rule", "color": "#000", "strokeWidth": 1.5},
      "encoding": {"x": {"value": -5}, "x2": {"value": 0}, "y": {"datum": 250, "type": "quantitative"}}},
     {"mark": {"type": "point", "filled": true, "size": 100, "opacity": 1, "strokeWidth": 0},
      "encoding": {"x": {"field": "cond", "type": "nominal", "sort": null}, "y": {"field": "val", "type": "quantitative"},
                   "color": {"field": "mouse", "type": "nominal", "scale": {"domain": ["M1","M2","M3","M4"], "range": ["#ee1c1c","#5d5df2","#22c822","#000000"]}, "legend": null}}}
    ]
   },
   {"width": 59, "height": 2, "data": {"values": [{"a": 1}]}, "mark": {"type": "point", "opacity": 0}, "encoding": {}},
   {
    "width": 219, "height": 243,
    "data": {"name": "dd"},
    "layer": [
     {"mark": {"type": "point", "filled": true, "size": 100, "opacity": 1, "strokeWidth": 0},
      "encoding": {
       "x": {"field": "cond", "type": "nominal", "sort": null, "scale": {"type": "band", "paddingInner": 0, "paddingOuter": 0},
             "axis": {"title": null, "ticks": false, "tickSize": 0, "labelAngle": 0, "labelPadding": 13, "labelFontSize": 15, "domainColor": "#000", "domainWidth": 1.5, "labelExpr": "datum.value == 'anti-CD3/CD28' ? ['anti-', 'CD3/CD28'] : datum.label", "labelLineHeight": 17}},
       "xOffset": {"field": "mouse", "type": "nominal", "scale": {"domain": ["M1","M4","M2","M3","M5"], "paddingInner": 0, "paddingOuter": 2.5}},
       "y": {"field": "val", "type": "quantitative", "scale": {"domain": [0, 70, 125, 250], "range": [243, 127.5, 115, 0], "nice": false, "zero": false},
             "axis": {"title": "GAG copies/10⁵ cells", "titleFontSize": 16, "titlePadding": 5, "titleY": 133, "domain": false, "values": [0,20,40,60,150,200,250], "tickCount": 50, "format": "d", "tickSize": 5, "tickWidth": 1.5, "tickColor": "#000", "labelFontSize": 15, "labelPadding": 2, "labelOverlap": false, "labelFlush": false}},
       "color": {"field": "mouse", "type": "nominal", "scale": {"domain": ["M1","M2","M3","M4","M5"], "range": ["#ee1c1c","#5d5df2","#22c822","#000000","#1fb87a"]}, "legend": null}}},
     {"data": {"values": [{"lo": 0, "hi": 70}, {"lo": 125, "hi": 250}]}, "mark": {"type": "rule", "color": "#000", "strokeWidth": 1.5},
      "encoding": {"x": {"value": 0}, "y": {"field": "lo", "type": "quantitative"}, "y2": {"field": "hi"}}},
     {"data": {"values": [{"k": 70}, {"k": 125}]}, "mark": {"type": "rule", "color": "#000", "strokeWidth": 1.5},
      "encoding": {"x": {"value": -5}, "x2": {"value": 0}, "y": {"field": "k", "type": "quantitative"}}},
     {"data": {"values": [{}]}, "mark": {"type": "text", "text": "D", "fontSize": 16, "fontWeight": "bold", "align": "left", "baseline": "top", "color": "#000"},
      "encoding": {"x": {"value": -44}, "y": {"value": -24}}}
    ]
   }
  ],
  "spacing": 0, "bounds": "flush",
  "resolve": {"scale": {"x": "independent", "y": "independent", "color": "independent", "xOffset": "independent"}}
 }
]
}
